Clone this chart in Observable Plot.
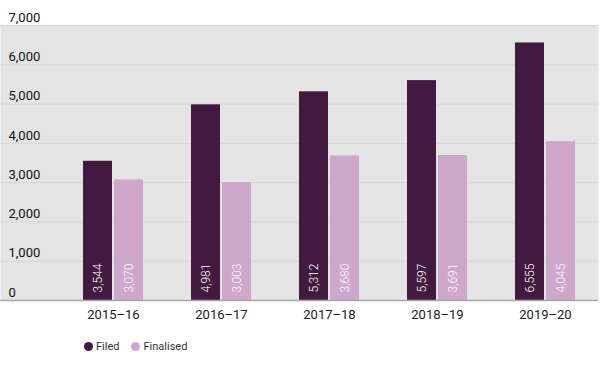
<!DOCTYPE html>
<html>
<head>
<meta charset="utf-8">
<script src="https://cdn.jsdelivr.net/npm/d3@7"></script>
<script src="https://cdn.jsdelivr.net/npm/@observablehq/plot@0.6"></script>
<style>
  html, body { margin: 0; padding: 0; background: #fff; }
  body { width: 600px; height: 365px; overflow: hidden; font-family: Roboto, "Noto Sans", sans-serif; }
  .legend { display: flex; align-items: center; height: 36px; padding-left: 84px; font-size: 11px; color: #333; margin-top: -2px; }
  .legend span.item { display: inline-flex; align-items: center; margin-right: 12px; }
  .legend span.sw { width: 9px; height: 9px; border-radius: 50%; display: inline-block; margin-right: 3px; }
</style>
</head>
<body>
<div id="chart"></div>
<script>
const years = ["2015–16", "2016–17", "2017–18", "2018–19", "2019–20"];
const filed = [3544, 4981, 5312, 5597, 6555];
const finalised = [3070, 3003, 3680, 3691, 4045];
const yTicks = [0, 1000, 2000, 3000, 4000, 5000, 6000, 7000];
const seriesNames = ["Filed", "Finalised"];
const seriesColors = ["#421a40", "#cea8cb"];

const filedData = years.map((y, i) => ({year: y, value: filed[i]}));
const finData = years.map((y, i) => ({year: y, value: finalised[i]}));
const fmt = d3.format(",");

const svg = Plot.plot({
  width: 600,
  height: 330,
  marginLeft: 0,
  marginRight: 2,
  marginTop: 25,
  marginBottom: 30,
  style: {fontFamily: "Roboto, sans-serif", background: "transparent"},
  x: {domain: years, range: [81.5, 577.5], paddingInner: 0.44, paddingOuter: 0, axis: null},
  y: {domain: [0, 7000], axis: null},
  marks: [
    Plot.frame({fill: "#e4e4e4", stroke: null}),
    Plot.ruleY(yTicks.filter(d => d > 0), {stroke: "#d5d5d5", strokeWidth: 1}),
    Plot.barY(filedData, {x: "year", y: "value", fill: seriesColors[0], insetRight: 31, insetLeft: 0}),
    Plot.barY(finData, {x: "year", y: "value", fill: seriesColors[1], insetLeft: 31, insetRight: 0}),
    Plot.ruleY([0], {stroke: "#a8a8a8", strokeWidth: 1.5}),
    Plot.text(yTicks, {y: d => d, text: d => fmt(d), frameAnchor: "left", textAnchor: "start", dx: 8, dy: -8, fontSize: 13, fill: "#111"}),
    Plot.text(filedData, {x: "year", y: 0, text: d => fmt(d.value), rotate: -90, textAnchor: "start", dx: -15.5, dy: -8, fontSize: 12, fontWeight: 300, fill: "#fff"}),
    Plot.text(finData, {x: "year", y: 0, text: d => fmt(d.value), rotate: -90, textAnchor: "start", dx: 15.5, dy: -8, fontSize: 12, fontWeight: 300, fill: "#fff"}),
    Plot.text(years, {x: d => d, text: d => d, frameAnchor: "bottom", dy: 18, fontSize: 13, fill: "#1a1a1a"})
  ]
});
document.getElementById("chart").appendChild(svg);

const legend = document.createElement("div");
legend.className = "legend";
seriesNames.forEach((name, i) => {
  const item = document.createElement("span");
  item.className = "item";
  const sw = document.createElement("span");
  sw.className = "sw";
  sw.style.background = seriesColors[i];
  item.appendChild(sw);
  item.appendChild(document.createTextNode(name));
  legend.appendChild(item);
});
document.body.appendChild(legend);
</script>
</body>
</html>
